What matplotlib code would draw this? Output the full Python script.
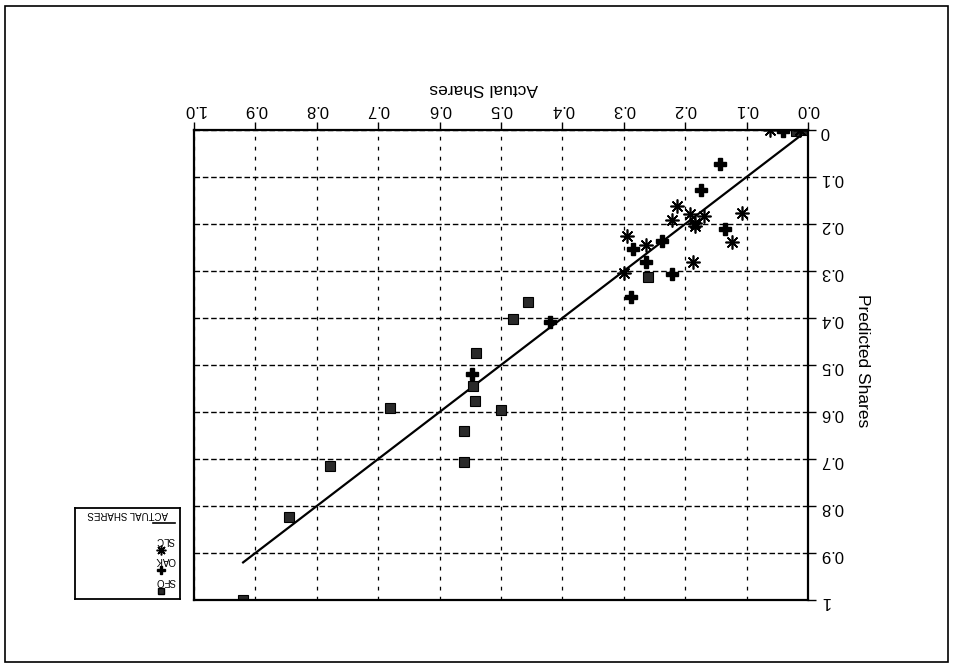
import matplotlib
matplotlib.use("Agg")
import matplotlib.pyplot as plt
from matplotlib.patches import Rectangle

plt.rcParams['font.family'] = ['Liberation Sans', 'DejaVu Sans']

sfo_actual = [0.005, 0.02, 0.26, 0.456, 0.48, 0.541, 0.546, 0.542, 0.681, 0.50, 0.56, 0.561, 0.778, 0.845, 0.92]
sfo_pred = [0.0, 0.003, 0.313, 0.366, 0.402, 0.474, 0.544, 0.576, 0.591, 0.596, 0.64, 0.706, 0.714, 0.824, 1.0]

oak_actual = [0.04, 0.143, 0.175, 0.135, 0.285, 0.237, 0.264, 0.222, 0.289, 0.42, 0.548]
oak_pred = [0.002, 0.072, 0.128, 0.211, 0.253, 0.236, 0.28, 0.306, 0.355, 0.408, 0.519]

slc_actual = [0.013, 0.062, 0.108, 0.214, 0.192, 0.169, 0.222, 0.184, 0.184, 0.123, 0.294, 0.263, 0.188, 0.30]
slc_pred = [0.0, 0.0, 0.176, 0.162, 0.178, 0.182, 0.191, 0.197, 0.205, 0.239, 0.226, 0.245, 0.281, 0.305]

fit_line = [0.0, 0.92]

x_ticks = [0.0, 0.1, 0.2, 0.3, 0.4, 0.5, 0.6, 0.7, 0.8, 0.9, 1.0]
x_labels = ['0.0', '0.1', '0.2', '0.3', '0.4', '0.5', '0.6', '0.7', '0.8', '0.9', '1.0']
y_labels = ['0', '0.1', '0.2', '0.3', '0.4', '0.5', '0.6', '0.7', '0.8', '0.9', '1']

fig = plt.figure(figsize=(9.58, 6.71), dpi=100)
ax = fig.add_axes([0.2025, 0.1058, 0.6409, 0.7005])

# the whole page is printed upside down: both axes reversed, text turned 180
ax.set_xlim(1, 0)
ax.set_ylim(1, 0)
ax.set_axisbelow(True)

ax.xaxis.grid(True, color='black', lw=0.9, ls=(0, (3, 5)))
ax.yaxis.grid(True, color='black', lw=1.0, ls=(0, (4, 2)))

ax.plot(fit_line, fit_line, color='black', lw=1.6)
ax.plot(sfo_actual, sfo_pred, ls='none', marker='s', ms=6.5, mfc='#2a2a2a', mec='black', mew=0.8)
ax.plot(oak_actual, oak_pred, ls='none', marker='P', ms=8, mfc='black', mec='black')
ax.plot(slc_actual, slc_pred, ls='none', marker=(8, 2, 0), ms=10, mec='black', mew=1.2)

ax.xaxis.tick_top()
ax.yaxis.tick_right()
ax.set_xticks(x_ticks)
ax.set_xticklabels(x_labels)
ax.set_yticks(x_ticks)
ax.set_yticklabels(y_labels)
ax.tick_params(axis='both', direction='out', length=6, width=1, labelsize=12,
               labelrotation=180, colors='black')
ax.tick_params(axis='x', pad=3)
ax.tick_params(axis='y', pad=3)
for sp in ax.spines.values():
    sp.set_linewidth(1.6)
    sp.set_color('black')

ax.text(0.472, 1.089, 'Actual Shares', transform=ax.transAxes, rotation=180,
        ha='center', va='center', fontsize=12.5)
ax.text(1.088, 0.51, 'Predicted Shares', transform=ax.transAxes, rotation=270,
        ha='center', va='center', fontsize=12.5)

# legend box, also upside down
leg = fig.add_axes([0.0783, 0.1073, 0.1096, 0.1356])
leg.set_xlim(0, 1)
leg.set_ylim(0, 1)
leg.set_xticks([])
leg.set_yticks([])
for sp in leg.spines.values():
    sp.set_linewidth(1.3)
leg.text(0.5, 0.93, 'ACTUAL SHARES', rotation=180, ha='center', va='center', fontsize=7)
leg.plot([0.74, 0.95], [0.835, 0.835], color='black', lw=1.2)
leg.text(0.86, 0.65, 'SLC', rotation=180, ha='center', va='center', fontsize=7)
leg.plot([0.82], [0.54], ls='none', marker=(8, 2, 0), ms=7, mec='black', mew=1.1)
leg.text(0.86, 0.43, 'OAK', rotation=180, ha='center', va='center', fontsize=7)
leg.plot([0.82], [0.32], ls='none', marker='P', ms=6, mfc='black', mec='black')
leg.text(0.86, 0.20, 'SFO', rotation=180, ha='center', va='center', fontsize=7)
leg.plot([0.82], [0.09], ls='none', marker='s', ms=5, mfc='#2a2a2a', mec='black')

fig.patches.append(Rectangle((0.0052, 0.0134), 0.9843, 0.9776, transform=fig.transFigure,
                             fill=False, edgecolor='black', lw=1.2))

fig.savefig('out.png', dpi=100)
